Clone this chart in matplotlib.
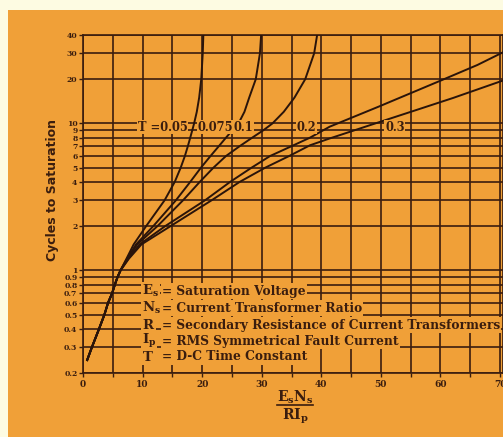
import matplotlib
matplotlib.use("Agg")
import matplotlib.pyplot as plt
from matplotlib.patches import Rectangle
from matplotlib.lines import Line2D
from matplotlib.ticker import FixedLocator, FixedFormatter, NullLocator

plt.rcParams['font.family'] = ['DejaVu Serif']
plt.rcParams['mathtext.fontset'] = 'dejavuserif'

# ---- data ----
common_x = [0.7, 1.5, 2.7, 3.6, 4.2, 4.9, 5.35, 5.8, 6.3]
common_y = [0.245, 0.3, 0.4, 0.5, 0.6, 0.7, 0.8, 0.9, 1.0]

t005_x = [7.3, 8.5, 10.6, 13.7, 15.4, 16.4, 17.1, 17.6, 18.0, 18.35, 18.65, 19.1, 19.5, 19.85, 20.1, 20.2]
t005_y = [1.2, 1.5, 2, 3, 4, 5, 6, 7, 8, 9, 10, 12, 15, 20, 30, 40]

t0075_x = [7.4, 8.9, 11.8, 15.6, 18.0, 19.8, 21.4, 22.8, 24.0, 25.1, 26.1, 27.1, 27.9, 29.0, 29.7, 29.9]
t0075_y = [1.2, 1.5, 2, 3, 4, 5, 6, 7, 8, 9, 10, 12, 15, 20, 30, 40]

t01_x = [7.5, 9.1, 12.5, 16.8, 19.6, 21.9, 24.0, 26.3, 28.4, 30.3, 31.8, 33.7, 35.5, 37.3, 38.8, 39.3]
t01_y = [1.2, 1.5, 2, 3, 4, 5, 6, 7, 8, 9, 10, 12, 15, 20, 30, 40]

t02_x = [7.6, 9.5, 13.8, 20.5, 24.7, 28.3, 31.4, 35.0, 38.1, 41.4, 49.6, 60.2, 66.2, 70.5]
t02_y = [1.2, 1.5, 2, 3, 4, 5, 6, 7, 8, 9.5, 13, 19.7, 25, 30.5]

t03_x = [7.7, 9.8, 14.7, 21.6, 26.3, 30.6, 34.6, 38.1, 41.4, 48.4, 55.3, 62.1, 70.5]
t03_y = [1.2, 1.5, 2, 3, 4, 5, 6, 7.1, 7.9, 9.8, 12.1, 14.9, 19.6]

curve_labels = ["T =0.05", "0.075", "0.1", "0.2", "0.3"]
label_x = [9.2, 19.3, 25.3, 35.9, 50.7]
label_y = 9.45

y_ticks = [0.2, 0.3, 0.4, 0.5, 0.6, 0.7, 0.8, 0.9, 1, 2, 3, 4, 5, 6, 7, 8, 9, 10, 20, 30, 40]
y_tick_labels = ["0.2", "0.3", "0.4", "0.5", "0.6", "0.7", "0.8", "0.9", "1",
                 "2", "3", "4", "5", "6", "7", "8", "9", "10", "20", "30", "40"]
x_grid = [0, 5, 10, 15, 20, 25, 30, 35, 40, 45, 50, 55, 60, 65, 70]
x_ticks = [0, 10, 20, 30, 40, 50, 60, 70]
x_tick_labels = ["0", "10", "20", "30", "40", "50", "60", "70"]

legend_symbols = [r"$\mathbf{E_s}$", r"$\mathbf{N_s}$", r"$\mathbf{R}$",
                  r"$\mathbf{I_p}$", r"$\mathbf{T}$"]
legend_texts = ["= Saturation Voltage", "= Current Transformer Ratio",
                "= Secondary Resistance of Current Transformers",
                "= RMS Symmetrical Fault Current", "= D-C Time Constant"]

# ---- styling ----
ORANGE = '#F0A038'
CREAM = '#FDFBE2'
INK = '#3a1d0e'

W, H = 503, 437
fig = plt.figure(figsize=(W / 100, H / 100), dpi=100, facecolor=CREAM)
fig.patches.append(Rectangle((8 / W, 0), 1 - 8 / W, (H - 10) / H,
                             transform=fig.transFigure, facecolor=ORANGE,
                             edgecolor='none', zorder=-10))

ax = fig.add_axes([83 / W, (H - 373) / H, 420 / W, (373 - 35) / H])
ax.set_zorder(1)
ax.patch.set_alpha(0)
ax.set_yscale('log')
ax.set_xlim(0, 70.5)
ax.set_ylim(0.2, 40)

for x in x_grid:
    ax.axvline(x, color=INK, lw=1.2, zorder=1)
for y in y_ticks:
    ax.axhline(y, color=INK, lw=1.2, zorder=1)

for xs, ys in [(t005_x, t005_y), (t0075_x, t0075_y), (t01_x, t01_y),
               (t02_x, t02_y), (t03_x, t03_y)]:
    ax.plot(common_x + xs, common_y + ys, color='#2a140a', lw=1.4, zorder=3,
            solid_joinstyle='round')

for s, x in zip(curve_labels, label_x):
    ax.text(x, label_y, s, fontsize=8.3, fontweight='bold', color=INK, ha='left',
            va='center', zorder=4,
            bbox=dict(facecolor=ORANGE, edgecolor='none', pad=0.6))

legend_py = [291, 308, 325, 341, 357]
for sym, txt, py in zip(legend_symbols, legend_texts, legend_py):
    fy = (H - py) / H
    ax.text(142 / W, fy, sym, transform=fig.transFigure, fontsize=9.5, color=INK,
            ha='left', va='center', zorder=5,
            bbox=dict(facecolor=ORANGE, edgecolor='none', pad=0.8))
    ax.text(162 / W, fy, txt, transform=fig.transFigure, fontsize=8.8,
            fontweight='bold', color=INK, ha='left', va='center', zorder=5,
            bbox=dict(facecolor=ORANGE, edgecolor='none', pad=0.8))

ax.yaxis.set_major_locator(FixedLocator(y_ticks))
ax.yaxis.set_major_formatter(FixedFormatter(y_tick_labels))
ax.yaxis.set_minor_locator(NullLocator())
ax.xaxis.set_major_locator(FixedLocator(x_ticks))
ax.xaxis.set_major_formatter(FixedFormatter(x_tick_labels))
ax.xaxis.set_minor_locator(FixedLocator(x_grid))
ax.tick_params(axis='y', length=3, width=1, color=INK, labelsize=5.5, labelcolor=INK, pad=1)
ax.tick_params(axis='x', which='both', length=3, width=1, color=INK, labelsize=6.5,
               labelcolor=INK, pad=2)
for lab in ax.get_xticklabels() + ax.get_yticklabels():
    lab.set_fontweight('bold')
for sp in ax.spines.values():
    sp.set_color(INK)
    sp.set_linewidth(1.2)

fig.text(53 / W, (H - 190) / H, "Cycles to Saturation", rotation=90, fontsize=9,
         family='DejaVu Sans', fontweight='bold', color=INK, ha='center', va='center')

fig.text(295 / W, (H - 397) / H, r"$\mathbf{E_s N_s}$", fontsize=10, color=INK,
         ha='center', va='center')
fig.lines.append(Line2D([277 / W, 313 / W], [(H - 405) / H, (H - 405) / H],
                        transform=fig.transFigure, color=INK, lw=1.2))
fig.text(295 / W, (H - 416) / H, r"$\mathbf{RI_p}$", fontsize=10, color=INK,
         ha='center', va='center')

fig.savefig("out.png", dpi=100, facecolor=CREAM)
